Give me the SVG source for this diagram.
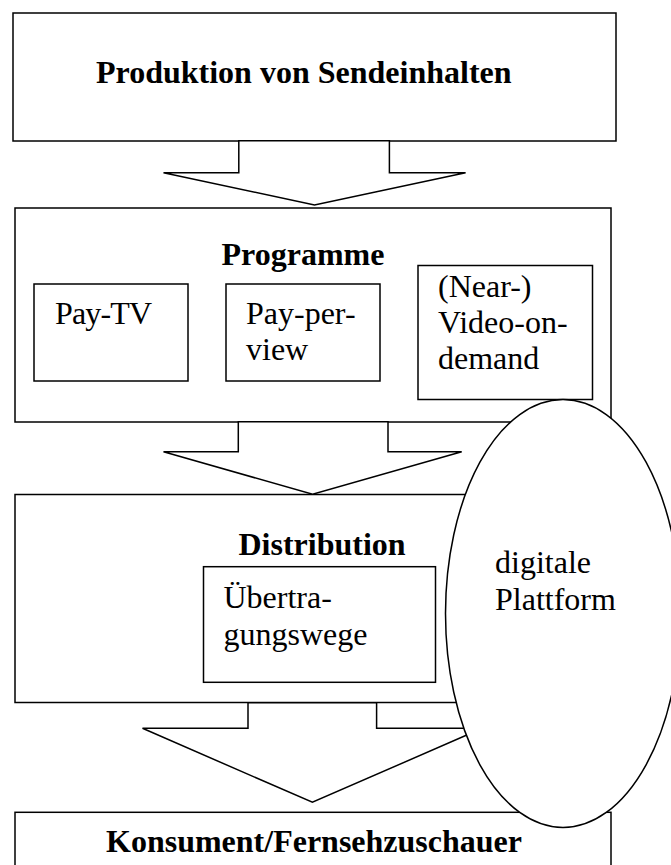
<svg xmlns="http://www.w3.org/2000/svg" width="671" height="865" viewBox="0 0 671 865">
<style>
.b{fill:#fff;stroke:#000;stroke-width:1.5}
.h{font-family:"Liberation Serif","Times New Roman",serif;font-weight:bold;font-size:32px;fill:#000}
.t{font-family:"Liberation Serif","Times New Roman",serif;font-size:32px;fill:#000}
</style>
<rect width="671" height="865" fill="#fff"/>
<g id="produktion">
<rect class="b" x="13" y="13" width="603" height="128"/>
<text class="h" x="96" y="83">Produktion von Sendeinhalten</text>
</g>
<g id="programme">
<rect class="b" x="15" y="208" width="596" height="214"/>
<text class="h" x="221.5" y="265">Programme</text>
</g>
<g id="paytv">
<rect class="b" x="34" y="284" width="154" height="97"/>
<text class="t" x="55" y="324" textLength="97" lengthAdjust="spacing">Pay-TV</text>
</g>
<g id="payperview">
<rect class="b" x="226" y="284" width="154" height="97"/>
<text class="t" x="246" y="324">Pay-per-</text>
<text class="t" x="246" y="360">view</text>
</g>
<g id="vod">
<rect class="b" x="418" y="265.5" width="174.5" height="134"/>
<text class="t" x="438" y="297">(Near-)</text>
<text class="t" x="438" y="333">Video-on-</text>
<text class="t" x="438" y="369">demand</text>
</g>
<g id="distribution">
<rect class="b" x="15" y="494.5" width="596" height="208"/>
<text class="h" x="238.5" y="555">Distribution</text>
</g>
<g id="uebertragungswege">
<rect class="b" x="203.5" y="566.7" width="232" height="115.6"/>
<text class="t" x="223.5" y="608">Übertra-</text>
<text class="t" x="223.5" y="644.5">gungswege</text>
</g>
<g id="konsument">
<rect class="b" x="15" y="812.3" width="596" height="70"/>
<text class="h" x="106" y="852">Konsument/Fernsehzuschauer</text>
</g>
<g id="connectors">
<polygon class="b" points="238.8,140.7 389.4,140.7 389.4,172.7 465.6,172.7 314.5,205 163.5,172.7 238.8,172.7"/>
<polygon class="b" points="238.3,421.7 388,421.7 388,451.7 461.7,451.7 312.6,494.3 163.5,451.7 238.3,451.7"/>
<polygon class="b" points="248,702.7 376.6,702.7 376.6,728.3 482.3,728.3 312.4,802.3 142.5,728.3 248,728.3"/>
</g>
<g id="plattform">
<ellipse class="b" cx="563" cy="613.5" rx="117.5" ry="214"/>
<text class="t" x="495" y="573">digitale</text>
<text class="t" x="495" y="609.5">Plattform</text>
</g>
</svg>
